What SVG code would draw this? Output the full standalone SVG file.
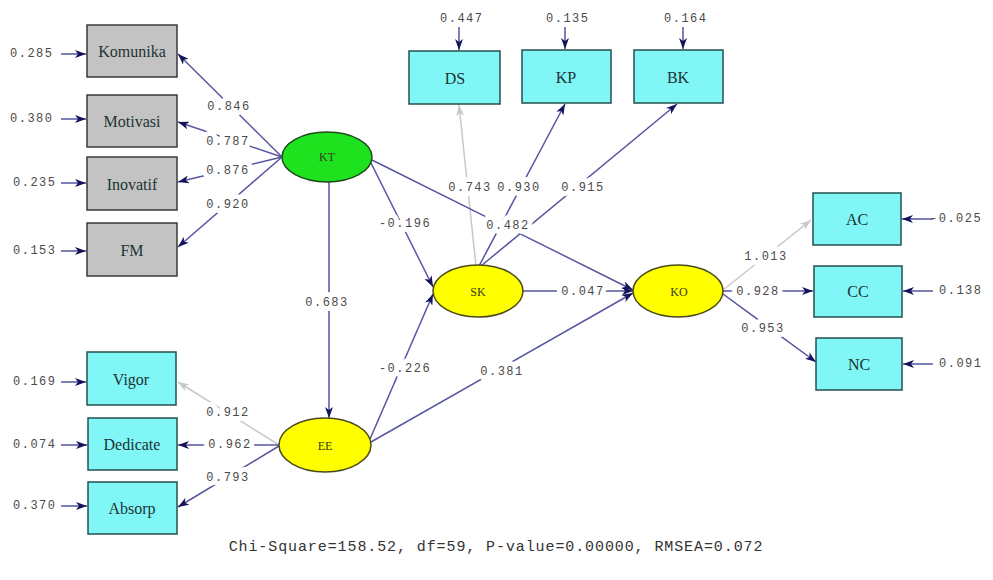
<svg xmlns="http://www.w3.org/2000/svg" width="993" height="580" viewBox="0 0 993 580">
<style>
  .obs-g rect { fill: #c3c3c3; stroke: #3a3a3a; stroke-width: 1.5; }
  .obs-c rect { fill: #80f6f6; stroke: #24504f; stroke-width: 1.5; }
  .lbl { font-family: "Liberation Serif", "Times New Roman", serif; font-size: 16px; fill: #1c3434; text-anchor: middle; dominant-baseline: central; }
  .lv { font-family: "Liberation Serif", "Times New Roman", serif; font-size: 12px; fill: #3a3a1a; text-anchor: middle; dominant-baseline: central; }
  .num { font-family: "Liberation Mono", "Courier New", monospace; font-size: 12px; letter-spacing: 1.5px; fill: #4a4a4a; dominant-baseline: central; }
  .coef { text-anchor: middle; paint-order: stroke; stroke: #ffffff; stroke-width: 10px; stroke-linejoin: round; }
  .path { stroke: #5555a0; stroke-width: 1.5; fill: none; marker-end: url(#ah); }
  .fixed { stroke: #c8c8c8; stroke-width: 1.5; fill: none; marker-end: url(#ahg); }
  .err { stroke: #5555a0; stroke-width: 1.5; fill: none; marker-end: url(#ah); }
  .fit { font-family: "Liberation Mono", "Courier New", monospace; font-size: 15px; letter-spacing: 0.9px; fill: #333333; text-anchor: middle; dominant-baseline: central; }
</style>
<defs>
  <marker id="ah" markerUnits="userSpaceOnUse" markerWidth="11" markerHeight="8" refX="11" refY="4" orient="auto">
    <path d="M0,0 L11,4 L0,8 L3,4 z" fill="#14145c"/>
  </marker>
  <marker id="ahg" markerUnits="userSpaceOnUse" markerWidth="11" markerHeight="8" refX="11" refY="4" orient="auto">
    <path d="M0,0 L11,4 L0,8 L3,4 z" fill="#c8c8c8"/>
  </marker>
</defs>
<rect width="993" height="580" fill="#ffffff"/>

<!-- connectors -->
<g id="connectors">
  <!-- KT loadings -->
  <line class="path" x1="282" y1="157" x2="178" y2="54"/>
  <line class="path" x1="282" y1="157" x2="178" y2="122"/>
  <line class="path" x1="282" y1="157" x2="178" y2="182"/>
  <line class="path" x1="282" y1="157" x2="178" y2="247"/>
  <!-- EE loadings -->
  <line class="fixed" x1="279" y1="445" x2="178" y2="382"/>
  <line class="path" x1="279" y1="445" x2="178" y2="445"/>
  <line class="path" x1="279" y1="446" x2="178" y2="507"/>
  <!-- SK loadings -->
  <line class="fixed" x1="476" y1="266" x2="459" y2="105"/>
  <line class="path" x1="479" y1="266" x2="565" y2="104"/>
  <line class="path" x1="481" y1="266" x2="677" y2="104"/>
  <!-- KO loadings -->
  <line class="fixed" x1="723" y1="290" x2="811" y2="220"/>
  <line class="path" x1="723" y1="291" x2="813" y2="291"/>
  <line class="path" x1="723" y1="294" x2="816" y2="362"/>
  <!-- structural paths -->
  <line class="path" x1="329" y1="182" x2="329" y2="418"/>
  <line class="path" x1="371" y1="163" x2="433" y2="287"/>
  <line class="path" x1="372" y1="160" x2="633" y2="290"/>
  <line class="path" x1="523" y1="291" x2="633" y2="291"/>
  <line class="path" x1="370" y1="439" x2="433" y2="294"/>
  <line class="path" x1="371" y1="442" x2="633" y2="293"/>
  <!-- error terms -->
  <line class="err" x1="61" y1="54" x2="86" y2="54"/>
  <line class="err" x1="61" y1="119" x2="86" y2="119"/>
  <line class="err" x1="61" y1="183" x2="86" y2="183"/>
  <line class="err" x1="61" y1="251" x2="86" y2="251"/>
  <line class="err" x1="61" y1="382" x2="86" y2="382"/>
  <line class="err" x1="61" y1="445" x2="87" y2="445"/>
  <line class="err" x1="61" y1="506" x2="87" y2="506"/>
  <line class="err" x1="459" y1="27" x2="459" y2="50"/>
  <line class="err" x1="565" y1="27" x2="565" y2="49"/>
  <line class="err" x1="683" y1="27" x2="683" y2="49"/>
  <line class="err" x1="933" y1="219" x2="902" y2="219"/>
  <line class="err" x1="933" y1="291" x2="903" y2="291"/>
  <line class="err" x1="933" y1="364" x2="903" y2="364"/>
</g>

<!-- coefficient labels -->
<g id="coefficients" class="num">
  <text class="coef" x="229" y="107">0.846</text>
  <text class="coef" x="228" y="142">0.787</text>
  <text class="coef" x="228" y="171">0.876</text>
  <text class="coef" x="228" y="205">0.920</text>
  <text class="coef" x="228" y="413">0.912</text>
  <text class="coef" x="230" y="445">0.962</text>
  <text class="coef" x="228" y="478">0.793</text>
  <text class="coef" x="327" y="303">0.683</text>
  <text class="coef" x="405" y="224">-0.196</text>
  <text class="coef" x="405" y="369">-0.226</text>
  <text class="coef" x="470" y="188">0.743</text>
  <text class="coef" x="519" y="188">0.930</text>
  <text class="coef" x="583" y="188">0.915</text>
  <text class="coef" x="508" y="226">0.482</text>
  <text class="coef" x="583" y="292">0.047</text>
  <text class="coef" x="502" y="372">0.381</text>
  <text class="coef" x="766" y="257">1.013</text>
  <text class="coef" x="758" y="292">0.928</text>
  <text class="coef" x="763" y="329">0.953</text>
</g>

<!-- error variances -->
<g id="errors" class="num">
  <text x="10" y="54">0.285</text>
  <text x="10" y="119">0.380</text>
  <text x="13" y="183">0.235</text>
  <text x="13" y="251">0.153</text>
  <text x="13" y="382">0.169</text>
  <text x="13" y="445">0.074</text>
  <text x="13" y="506">0.370</text>
  <text x="440" y="19">0.447</text>
  <text x="546" y="19">0.135</text>
  <text x="664" y="19">0.164</text>
  <text x="930" y="219">-0.025</text>
  <text x="939" y="291">0.138</text>
  <text x="939" y="364">0.091</text>
</g>

<!-- observed indicators -->
<g id="Komunika" class="obs-g"><rect x="87" y="25" width="90" height="52"/><text class="lbl" x="132" y="51">Komunika</text></g>
<g id="Motivasi" class="obs-g"><rect x="87" y="95" width="90" height="52"/><text class="lbl" x="132" y="121">Motivasi</text></g>
<g id="Inovatif" class="obs-g"><rect x="87" y="157" width="90" height="53"/><text class="lbl" x="132" y="184">Inovatif</text></g>
<g id="FM" class="obs-g"><rect x="87" y="223" width="90" height="53"/><text class="lbl" x="132" y="250">FM</text></g>

<g id="Vigor" class="obs-c"><rect x="87" y="352" width="89" height="53"/><text class="lbl" x="131" y="379">Vigor</text></g>
<g id="Dedicate" class="obs-c"><rect x="88" y="418" width="89" height="52"/><text class="lbl" x="132" y="444">Dedicate</text></g>
<g id="Absorp" class="obs-c"><rect x="88" y="482" width="89" height="52"/><text class="lbl" x="132" y="508">Absorp</text></g>

<g id="DS" class="obs-c"><rect x="409" y="51" width="91" height="53"/><text class="lbl" x="455" y="78">DS</text></g>
<g id="KP" class="obs-c"><rect x="522" y="50" width="89" height="53"/><text class="lbl" x="566" y="77">KP</text></g>
<g id="BK" class="obs-c"><rect x="634" y="50" width="89" height="53"/><text class="lbl" x="678" y="77">BK</text></g>

<g id="AC" class="obs-c"><rect x="813" y="193" width="88" height="52"/><text class="lbl" x="857" y="219">AC</text></g>
<g id="CC" class="obs-c"><rect x="814" y="266" width="88" height="51"/><text class="lbl" x="858" y="291">CC</text></g>
<g id="NC" class="obs-c"><rect x="816" y="338" width="86" height="52"/><text class="lbl" x="859" y="364">NC</text></g>

<!-- latent variables -->
<g id="KT"><ellipse cx="327" cy="157" rx="45" ry="25" fill="#1de21d" stroke="#1e4a1e" stroke-width="1.5"/><text class="lv" x="327" y="157">KT</text></g>
<g id="EE"><ellipse cx="325" cy="445" rx="46" ry="27" fill="#ffff00" stroke="#4a4a1a" stroke-width="1.5"/><text class="lv" x="325" y="446">EE</text></g>
<g id="SK"><ellipse cx="478" cy="291" rx="45" ry="26" fill="#ffff00" stroke="#4a4a1a" stroke-width="1.5"/><text class="lv" x="478" y="292">SK</text></g>
<g id="KO"><ellipse cx="678" cy="291" rx="45" ry="26" fill="#ffff00" stroke="#4a4a1a" stroke-width="1.5"/><text class="lv" x="679" y="292">KO</text></g>

<!-- fit statistics -->
<text class="fit" x="496" y="547">Chi-Square=158.52, df=59, P-value=0.00000, RMSEA=0.072</text>
</svg>
